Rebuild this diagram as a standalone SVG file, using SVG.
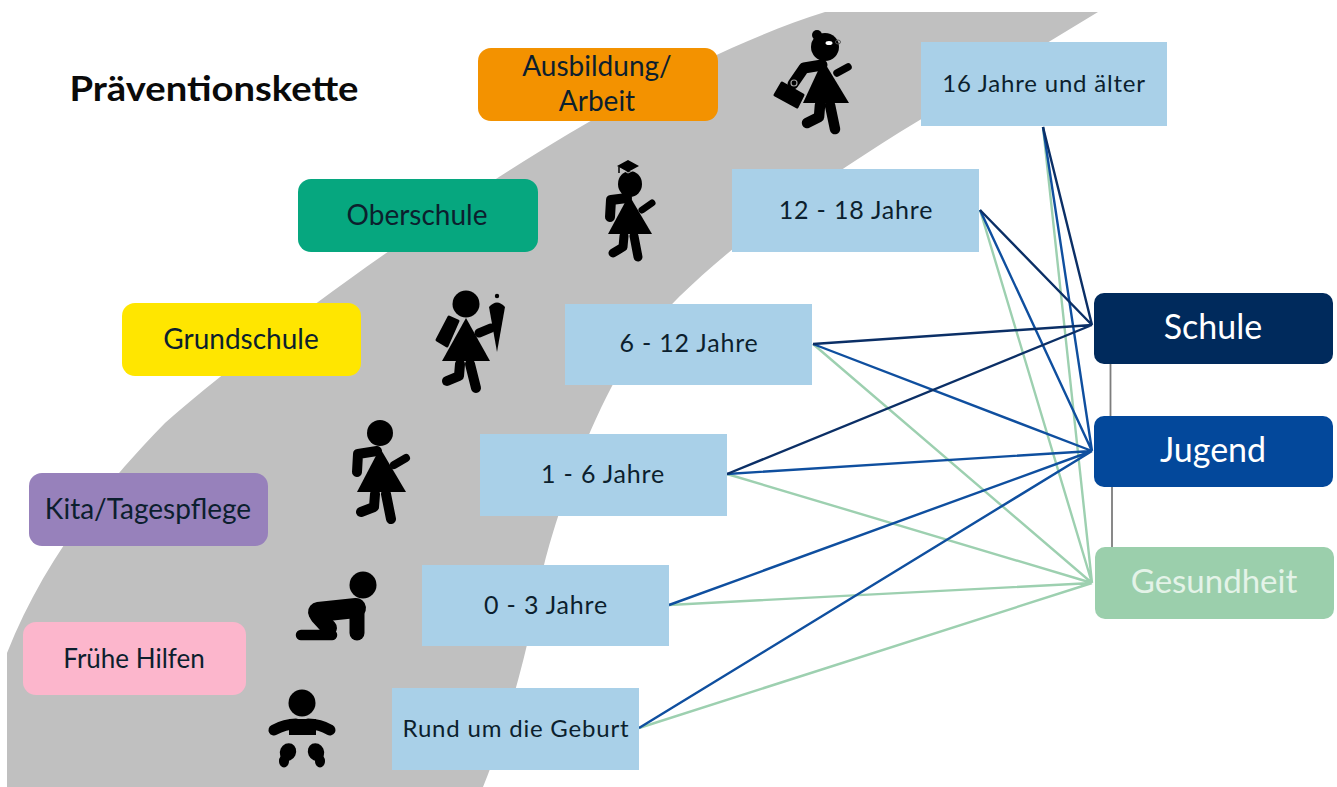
<svg xmlns="http://www.w3.org/2000/svg" width="1337" height="787" viewBox="0 0 1337 787">
<style>
text{font-family:"Lato","Noto Sans",sans-serif;text-anchor:middle;fill:#0c1f2e;font-size:28px}
.age{fill:#a9d0e8}
.age-t{letter-spacing:.8px;font-size:24px}
.age-s{letter-spacing:.8px;font-size:25px}
.c1{stroke:#0b2f66;stroke-width:2.400;fill:none}
.c2{stroke:#0f4f9f;stroke-width:2.400;fill:none}
.c3{stroke:#9dd0b0;stroke-width:2.400;fill:none}
.c0{stroke:#7d7d7d;stroke-width:1.800;fill:none}
.w{fill:#fff;font-size:34px}
.lim{fill:none;stroke:#000;stroke-linecap:round;stroke-linejoin:round}
</style>
<rect width="1337" height="787" fill="#fff"/>
<path id="road" d="M7 787V653C40 570 90 500 165 423C230 365 370 260 499 177C600 112 720 45 825 12H1098L900 132C800 195 700 265 640 340C600 395 560 500 544 565C530 640 510 720 483 787Z" fill="#c0c0c0"/>
<g id="connectors">
<path class="c3" d="M1043 127L1092 583M980 210L1092 583M813 344L1092 583M727 474L1092 583M669 605L1092 583M639 728L1092 583"/>
<path class="c2" d="M1043 127L1092 451M980 210L1092 451M813 344L1092 451M727 474L1092 451M669 605L1092 451M639 728L1092 451"/>
<path class="c1" d="M1043 127L1092 325M980 210L1092 325M813 344L1092 325M727 474L1092 325"/>
<path class="c0" d="M1110.500 364V416M1112 487V548"/>
</g>
<text id="title" x="214" y="101" style="font-size:35px;font-weight:700;fill:#0a0a0a" textLength="289" lengthAdjust="spacingAndGlyphs">Präventionskette</text>
<g id="stage-arbeit"><rect x="478" y="48" width="240" height="73" rx="13" fill="#f39200"/><text x="597" y="76">Ausbildung/</text><text x="597" y="111">Arbeit</text></g>
<g id="stage-oberschule"><rect x="298" y="179" width="240" height="73" rx="13" fill="#06a77f"/><text x="417" y="225">Oberschule</text></g>
<g id="stage-grundschule"><rect x="122" y="303" width="239" height="73" rx="13" fill="#ffe600"/><text x="241" y="349">Grundschule</text></g>
<g id="stage-kita"><rect x="29" y="473" width="239" height="73" rx="13" fill="#9781bb"/><text x="148" y="519">Kita/Tagespflege</text></g>
<g id="stage-fruehe"><rect x="23" y="622" width="223" height="73" rx="13" fill="#fcb6cc"/><text x="134" y="668" style="font-size:26px">Frühe Hilfen</text></g>
<g id="age-16"><rect class="age" x="921" y="42" width="246" height="84"/><text class="age-t" x="1044" y="92">16 Jahre und älter</text></g>
<g id="age-12"><rect class="age" x="732" y="169" width="247" height="83"/><text class="age-s" x="856" y="219">12 - 18 Jahre</text></g>
<g id="age-6"><rect class="age" x="565" y="304" width="247" height="81"/><text class="age-s" x="689" y="352">6 - 12 Jahre</text></g>
<g id="age-1"><rect class="age" x="480" y="434" width="247" height="82"/><text class="age-s" x="603" y="483">1 - 6 Jahre</text></g>
<g id="age-0"><rect class="age" x="422" y="565" width="247" height="81"/><text class="age-s" x="546" y="614">0 - 3 Jahre</text></g>
<g id="age-geburt"><rect class="age" x="392" y="688" width="247" height="82"/><text class="age-t" x="516" y="737">Rund um die Geburt</text></g>
<g id="sector-schule"><rect x="1094" y="293" width="239" height="71" rx="10" fill="#002a5c"/><text class="w" x="1213" y="339">Schule</text></g>
<g id="sector-jugend"><rect x="1094" y="416" width="239" height="71" rx="10" fill="#03489b"/><text class="w" x="1213" y="462">Jugend</text></g>
<g id="sector-gesundheit"><rect x="1095" y="547" width="239" height="72" rx="10" fill="#9bcfac"/><text class="w" x="1214" y="593" style="fill:#e4f3e8;font-size:33px">Gesundheit</text></g>
<g id="fig-woman">
<circle cx="825" cy="47" r="14"/><circle cx="817" cy="35" r="5"/>
<path d="M823 60L803 103H849Z"/>
<path class="lim" stroke-width="7.500" d="M837 73L848 67"/>
<path class="lim" stroke-width="11" d="M822 65L804 68L793 84"/>
<path d="M782 83L803 95L797 107L775 95Z" stroke="#000" stroke-width="3" stroke-linejoin="round"/>
<circle cx="794" cy="83" r="3" fill="none" stroke="#a0a0a0" stroke-width="1.200"/>
<path class="lim" stroke-width="10.500" d="M820 105L819 117L807 123M830 105L835 129"/>
<ellipse cx="829" cy="43" rx="3.500" ry="2" fill="#fff"/>
<ellipse cx="838" cy="42" rx="2.500" ry="2" fill="none" stroke="#555" stroke-width="1"/>
</g>
<g id="fig-graduate">
<ellipse cx="630" cy="184" rx="12" ry="13"/>
<path d="M628 160L639 166L628 172L617 166Z"/>
<path d="M619 168L628 173L638 168" fill="none" stroke="#c0c0c0" stroke-width="1"/>
<path d="M619 167V173" stroke="#000" stroke-width="1.500"/>
<path d="M629 195L608 234H652Z"/>
<path class="lim" stroke-width="7" d="M642 210L652 203"/>
<path class="lim" stroke-width="10" d="M627 198L611 200L610 217"/>
<path class="lim" stroke-width="9" d="M624 236L623 247L613 253M634 236L638 257"/>
</g>
<g id="fig-school">
<circle cx="466" cy="304" r="13.500"/>
<path d="M466 318L442 361H490Z"/>
<path d="M449 317L458 321L447 346L437 340Z" stroke="#000" stroke-width="3" stroke-linejoin="round"/>
<path class="lim" stroke-width="9" d="M479 333L491 328"/>
<path d="M489 307Q497 298 505 307L497 352Z"/><circle cx="497" cy="296" r="2.200"/>
<path class="lim" stroke-width="10" d="M460 364L459 376L447 381M470 364L476 388"/>
</g>
<g id="fig-toddler">
<circle cx="380" cy="433" r="13"/>
<path d="M380 448L357 492H406Z"/>
<path class="lim" stroke-width="8" d="M394 465L406 458"/>
<path class="lim" stroke-width="10" d="M377 451L358 454L357 472"/>
<path class="lim" stroke-width="10" d="M375 494L374 507L361 512M386 494L391 519"/>
</g>
<g id="fig-crawler">
<circle cx="363" cy="585" r="13.500"/>
<path class="lim" stroke-width="20" d="M318 612L356 608"/>
<path class="lim" stroke-width="15" d="M357 610L357 633"/>
<path class="lim" stroke-width="16" d="M318 616L329 628"/>
<path class="lim" stroke-width="10.500" d="M332 635H301"/>
</g>
<g id="fig-baby">
<circle cx="302" cy="703" r="13.500"/>
<rect x="289" y="719" width="27" height="16"/>
<path class="lim" stroke-width="11" d="M274 730Q285 724 296 724M330 730Q320 724 308 724"/>
<ellipse cx="288" cy="752" rx="8" ry="9" transform="rotate(25 288 752)"/>
<ellipse cx="284" cy="761" rx="5" ry="6.500"/>
<ellipse cx="316" cy="752" rx="8" ry="9" transform="rotate(-25 316 752)"/>
<ellipse cx="320" cy="761" rx="5" ry="6.500"/>
</g>
</svg>
